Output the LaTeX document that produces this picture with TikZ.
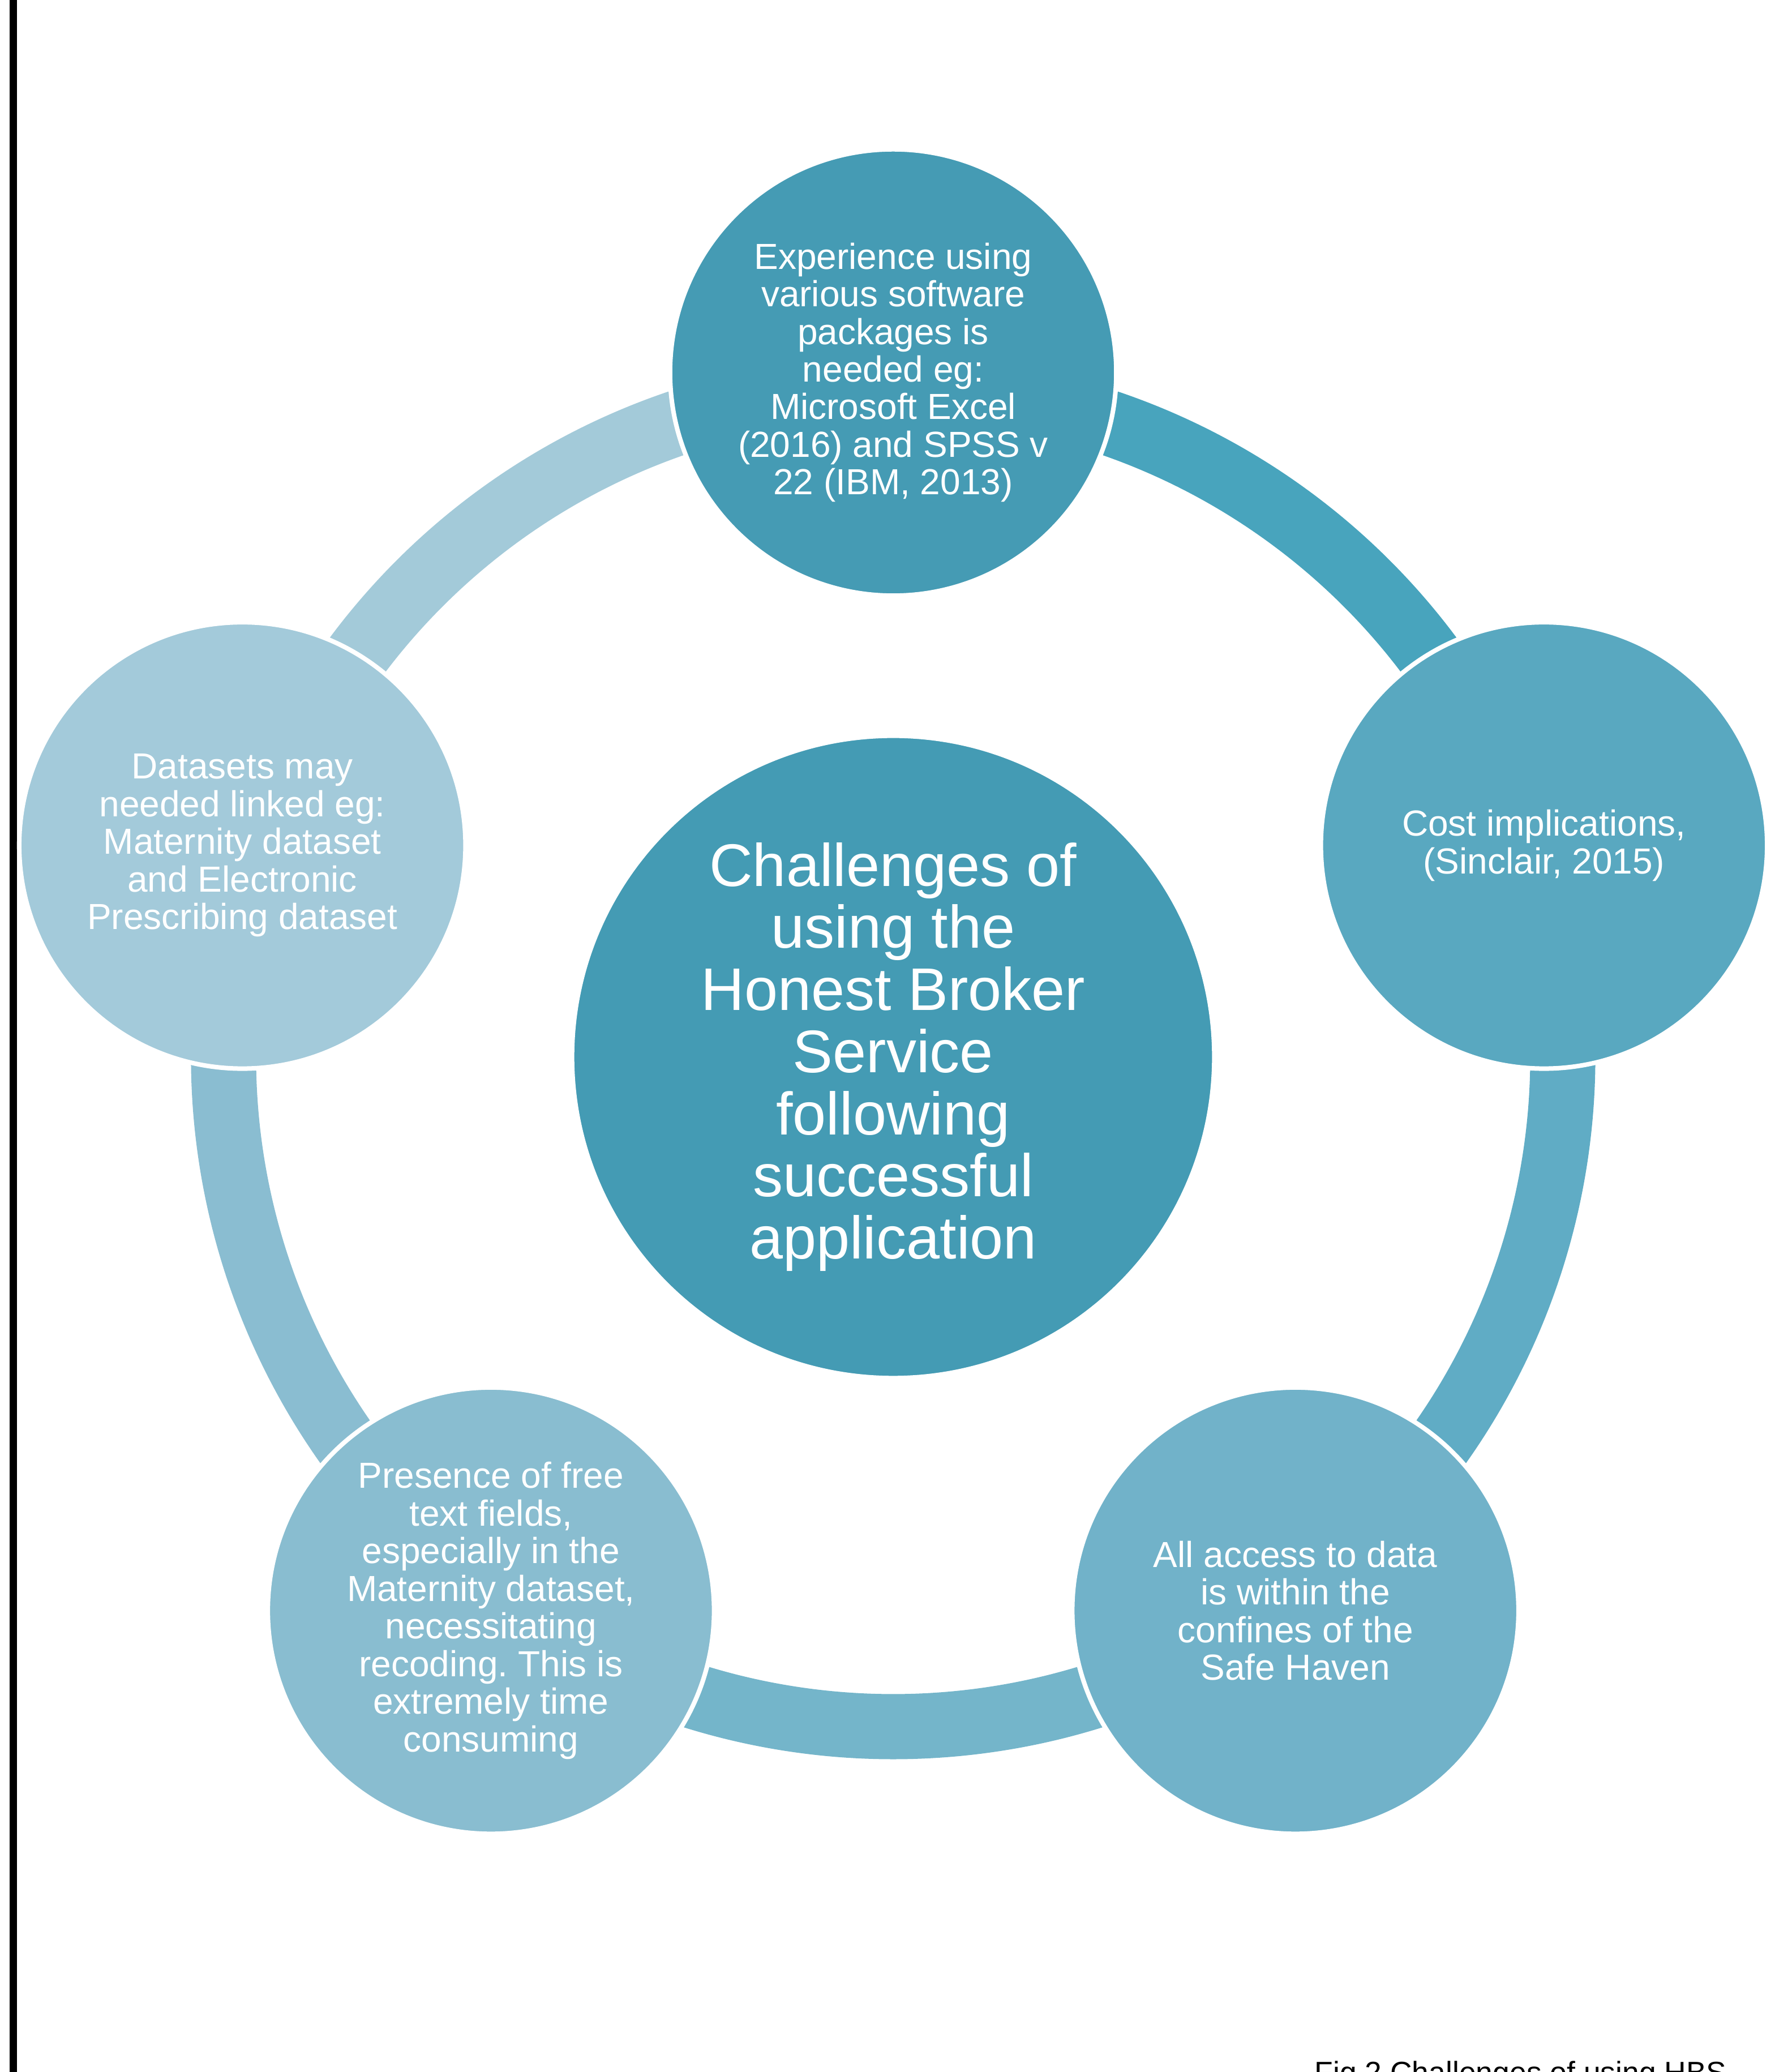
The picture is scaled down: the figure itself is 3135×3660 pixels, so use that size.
\documentclass[tikz,border=0pt]{standalone}
\usepackage{fontspec}
\setmainfont{Liberation Sans}
\usetikzlibrary{calc}
\frenchspacing
\definecolor{cHub}{HTML}{449BB4}
\definecolor{cTop}{HTML}{459BB4}
\definecolor{cRight}{HTML}{59A8C0}
\definecolor{cBR}{HTML}{71B2C9}
\definecolor{cBL}{HTML}{89BDD0}
\definecolor{cLeft}{HTML}{A3CADA}
\definecolor{aOne}{HTML}{48A4BD}
\definecolor{aTwo}{HTML}{60ACC5}
\definecolor{aThree}{HTML}{74B5CA}
\definecolor{aFour}{HTML}{8ABDD1}
\definecolor{aFive}{HTML}{A3CAD9}
\tikzset{
  ringarc/.style={line width=1.15cm},
  smallcircle/.style={circle, draw=white, line width=0.08cm, minimum size=7.88cm, inner sep=0pt,
    text=white, align=center, font={\frenchspacing\fontsize{18.2pt}{18.9pt}\selectfont}},
  hubcircle/.style={circle, draw=white, line width=0.08cm, minimum size=11.34cm, inner sep=0pt,
    text=white, align=center, font={\fontsize{30.2pt}{31.2pt}\selectfont}},
  caption/.style={anchor=base west, inner sep=0pt, text=black, font={\fontsize{15.2pt}{17pt}\selectfont}}
}
\begin{document}
\begin{tikzpicture}[x=0.01cm,y=0.01cm]
\useasboundingbox (0,0) rectangle (3135,3660);
\clip (0,0) rectangle (3135,3660);
\fill[black] (17,0) rectangle (30,3660);
\coordinate (hub) at (1578,1793);
% ring segments
\draw[ringarc, aOne] (hub) ++(90:1183) arc[start angle=90, end angle=18, radius=1183];
\draw[ringarc, aTwo] (hub) ++(18:1183) arc[start angle=18, end angle=-54, radius=1183];
\draw[ringarc, aThree] (hub) ++(-54:1183) arc[start angle=-54, end angle=-126, radius=1183];
\draw[ringarc, aFour] (hub) ++(-126:1183) arc[start angle=-126, end angle=-198, radius=1183];
\draw[ringarc, aFive] (hub) ++(162:1183) arc[start angle=162, end angle=90, radius=1183];
% circles
\node[hubcircle, fill=cHub] (center) at (hub) {Challenges of\\using the\\Honest Broker\\Service\\following\\successful\\application};
\node[smallcircle, fill=cTop] (top) at ($(hub)+(90:1209)$) {Experience using\\various software\\packages is\\needed eg:\\Microsoft Excel\\(2016) and SPSS v\\22 (IBM, 2013)};
\node[smallcircle, fill=cRight] (right) at ($(hub)+(18:1209)$) {Cost implications,\\(Sinclair, 2015)};
\node[smallcircle, fill=cBR] (bright) at ($(hub)+(-54:1209)$) {All access to data\\is within the\\confines of the\\Safe Haven};
\node[smallcircle, fill=cBL] (bleft) at ($(hub)+(-126:1209)$) {Presence of free\\text fields,\\especially in the\\Maternity dataset,\\necessitating\\recoding. This is\\extremely time\\consuming};
\node[smallcircle, fill=cLeft] (left) at ($(hub)+(162:1209)$) {Datasets may\\needed linked eg:\\Maternity dataset\\and Electronic\\Prescribing dataset};
\node[caption] (cap) at (2322,-20) {Fig 2 Challenges of using HBS};
\end{tikzpicture}
\end{document}
